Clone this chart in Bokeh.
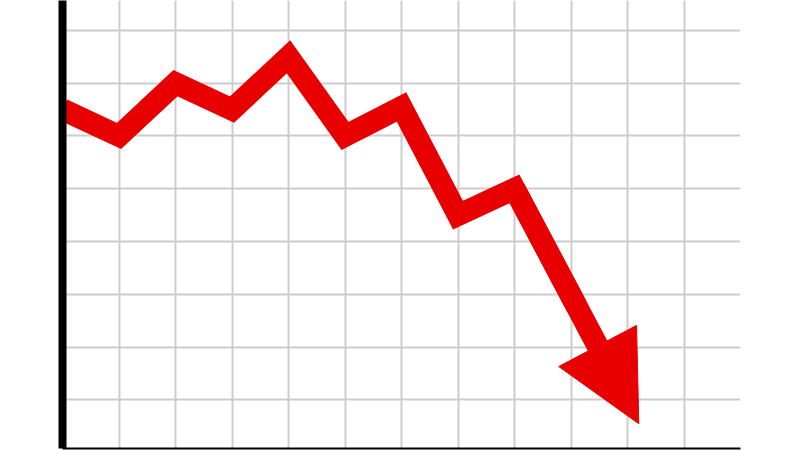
from bokeh.plotting import figure
from bokeh.models import FixedTicker, Range1d, Arrow, NormalHead
from bokeh.embed import file_html
from bokeh.resources import INLINE

# data
x_vals = [0, 1, 2, 3, 4, 5, 6, 7, 8]
y_vals = [6.5, 6.0, 7.0, 6.5, 7.5, 6.0, 6.55, 4.5, 5.0]
tip_x = 10.2
tip_y = 0.55
x_ticks = list(range(0, 13))
y_ticks = list(range(1, 9))

RED = "#e80000"

p = figure(width=800, height=450, output_backend="svg", toolbar_location=None,
           x_range=Range1d(0, 12), y_range=Range1d(0.081, 8.566),
           min_border_left=62, min_border_right=60, min_border_top=0, min_border_bottom=2,
           background_fill_color="white", border_fill_color="white")
p.outline_line_color = None

for ax in (p.xaxis[0], p.yaxis[0]):
    ax.ticker = FixedTicker(ticks=[])
    ax.major_label_standoff = 0
    ax.major_tick_line_color = None
    ax.minor_tick_line_color = None
    ax.major_tick_out = 0
    ax.major_tick_in = 0
    ax.minor_tick_out = 0
    ax.minor_tick_in = 0
    ax.axis_line_color = "black"

p.yaxis.axis_line_width = 8
p.xaxis.axis_line_width = 2

p.xgrid.ticker = FixedTicker(ticks=x_ticks)
p.ygrid.ticker = FixedTicker(ticks=y_ticks)
p.grid.grid_line_color = "#cccccc"
p.grid.grid_line_width = 2

# main line, extended part-way along the arrow shaft so the join at the last point is mitred
mx = x_vals[-1] + 0.5 * (tip_x - x_vals[-1])
my = y_vals[-1] + 0.5 * (tip_y - y_vals[-1])
p.line(x_vals + [mx], y_vals + [my], line_width=22, line_color=RED, line_join="miter")

p.add_layout(Arrow(end=NormalHead(size=88, fill_color=RED, line_color=RED, line_width=1),
                   x_start=x_vals[-1], y_start=y_vals[-1], x_end=tip_x, y_end=tip_y,
                   line_color=RED, line_width=22))

open("out.html", "w").write(file_html(p, INLINE))
